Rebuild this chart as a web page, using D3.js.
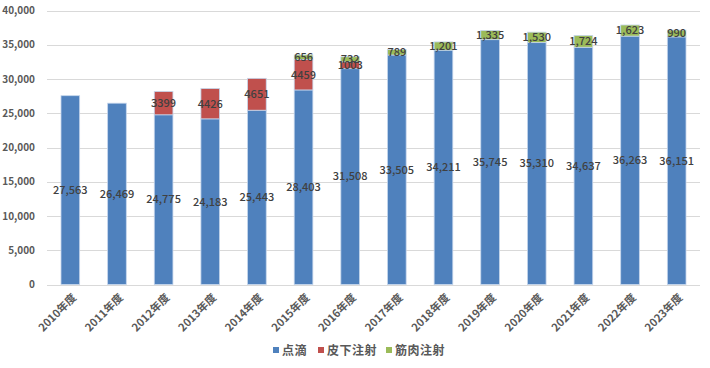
<!DOCTYPE html>
<html><head><meta charset="utf-8">
<script src="https://cdn.jsdelivr.net/npm/d3@7"></script>
<style>
body{margin:0;background:#fff;}
text{font-family:"Noto Sans CJK JP","Noto Sans",sans-serif;}
</style></head>
<body><svg id="c" width="710" height="368"></svg>
<script>
const categories = ["2010年度","2011年度","2012年度","2013年度","2014年度","2015年度","2016年度","2017年度","2018年度","2019年度","2020年度","2021年度","2022年度","2023年度"];
const drip = [27563,26469,24775,24183,25443,28403,31508,33505,34211,35745,35310,34637,36263,36151];
const subcutaneous = [0,0,3399,4426,4651,4459,1003,0,0,0,0,0,0,0];
const intramuscular = [0,0,0,0,0,656,732,789,1201,1335,1530,1724,1623,990];
const seriesNames = ["点滴","皮下注射","筋肉注射"];
const colors = ["#4F81BD","#C0504D","#9BBB59"];
const yTicks = [0,5000,10000,15000,20000,25000,30000,35000,40000];

const svg = d3.select("#c");
const m = {l:47, r:10, t:10.5, b:83.5};
const W = 710, H = 368;
const x = d3.scaleBand().domain(categories).range([m.l, W-m.r]).paddingInner(0.6).paddingOuter(0.3);
const y = d3.scaleLinear().domain([0,40000]).range([H-m.b, m.t]);

// gridlines
svg.append("g").selectAll("line").data(yTicks.slice(1)).join("line")
  .attr("x1", m.l).attr("x2", W-m.r)
  .attr("y1", d=>Math.round(y(d))+0.5).attr("y2", d=>Math.round(y(d))+0.5)
  .attr("stroke","#d9d9d9").attr("stroke-width",1);

// y axis
const ya = svg.append("g").attr("transform",`translate(${m.l},0)`)
  .call(d3.axisLeft(y).tickValues(yTicks).tickFormat(d3.format(",")).tickSize(0).tickPadding(12));
ya.select(".domain").remove();
ya.selectAll("text").attr("font-size",10).attr("fill","#595959").attr("font-weight","bold");

const fmtC = d3.format(",");
const data = categories.map((c,i)=>({c, vals:[drip[i],subcutaneous[i],intramuscular[i]]}));
const stack = d3.stack().keys([0,1,2]).value((d,k)=>d.vals[k]);
const layers = stack(data);

const g = svg.append("g");
layers.forEach((layer,k)=>{
  g.selectAll(null).data(layer.filter(d=>d[1]-d[0]>0)).join("rect")
    .attr("x", d=>x(d.data.c)).attr("width", x.bandwidth())
    .attr("y", d=>y(d[1])).attr("height", d=>y(d[0])-y(d[1]))
    .attr("fill", colors[k]).attr("stroke","#c6d6ec").attr("stroke-width",0.8);
});

// x axis line
svg.append("line").attr("x1",m.l).attr("x2",W-m.r)
  .attr("y1",Math.round(y(0))+0.5).attr("y2",Math.round(y(0))+0.5)
  .attr("stroke","#d9d9d9");

// labels
layers.forEach((layer,k)=>{
  g.selectAll(null).data(layer.filter(d=>d[1]-d[0]>0)).join("text")
    .attr("x", d=>x(d.data.c)+x.bandwidth()/2)
    .attr("y", d=>(y(d[0])+y(d[1]))/2)
    .attr("dy","0.35em").attr("text-anchor","middle")
    .attr("font-size",11).attr("font-weight",500).attr("fill","#404040")
    .text(d=>{const v=d[1]-d[0]; return k===1? String(v) : fmtC(v);});
});

// x labels
svg.append("g").selectAll("text").data(categories).join("text")
  .attr("transform", d=>`translate(${x(d)+x.bandwidth()/2+4},${y(0)+11}) rotate(-45)`)
  .attr("text-anchor","end").attr("dy","0.35em")
  .attr("font-size",11).attr("font-weight","bold").attr("fill","#595959")
  .text(d=>d);

// legend
const lx = [273, 318, 386];
const lg = svg.append("g");
seriesNames.forEach((n,i)=>{
  lg.append("rect").attr("x",lx[i]).attr("y",347).attr("width",6).attr("height",6).attr("fill",colors[i]);
  lg.append("text").attr("x",lx[i]+9).attr("y",350.5).attr("dy","0.35em")
    .attr("font-size",12).attr("font-weight","bold").attr("letter-spacing",0.5).attr("fill","#595959").text(n);
});
</script></body></html>
